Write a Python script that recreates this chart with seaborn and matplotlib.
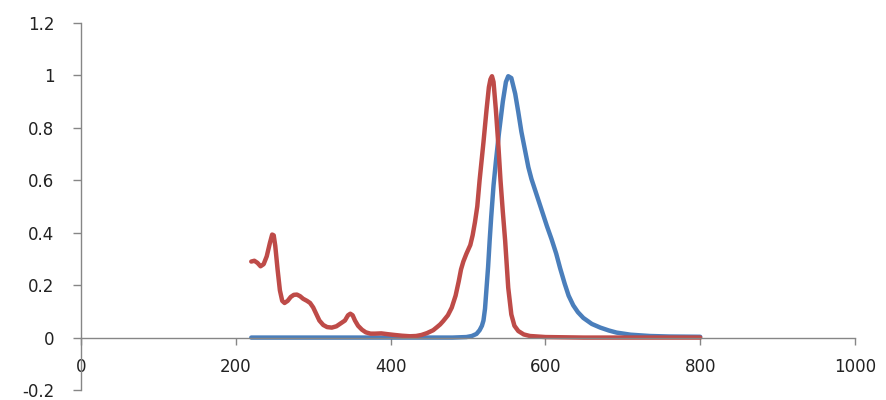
import numpy as np
import pandas as pd
import matplotlib.pyplot as plt
import seaborn as sns

# absorption (red)
abs_x = [220, 224, 228, 232, 236, 240, 244, 247, 249, 251, 254, 257, 260, 263, 267, 271,
         275, 279, 283, 287, 292, 296, 300, 304, 308, 313, 318, 324, 330, 336, 341, 345,
         348, 351, 354, 358, 363, 368, 374, 380, 388, 396, 405, 415, 425, 433, 440, 447,
         455, 460, 464, 468, 474, 479, 484, 488, 491, 494, 498, 503, 506, 509, 512, 515,
         520, 524, 527, 529, 531, 533, 536, 539, 542, 545, 548, 552, 556, 560, 565, 572,
         580, 600, 650, 700, 750, 800]
abs_y = [0.29, 0.293, 0.285, 0.272, 0.28, 0.31, 0.36, 0.393, 0.39, 0.35, 0.26, 0.18, 0.14,
         0.132, 0.14, 0.155, 0.163, 0.164, 0.158, 0.148, 0.14, 0.132, 0.115, 0.09, 0.065,
         0.048, 0.04, 0.038, 0.043, 0.055, 0.065, 0.085, 0.091, 0.085, 0.065, 0.045, 0.03,
         0.02, 0.015, 0.015, 0.016, 0.013, 0.01, 0.007, 0.005, 0.006, 0.01, 0.017, 0.028,
         0.04, 0.05, 0.063, 0.085, 0.114, 0.16, 0.214, 0.26, 0.29, 0.32, 0.353, 0.39, 0.44,
         0.5, 0.6, 0.745, 0.87, 0.955, 0.985, 0.997, 0.975, 0.87, 0.745, 0.6, 0.48, 0.37,
         0.19, 0.088, 0.045, 0.025, 0.012, 0.006, 0.002, 0.0, 0.0, 0.0, 0.0]

# emission (blue)
em_x = [220, 300, 400, 480, 498, 505, 511, 515, 518, 520, 522, 524, 526, 528, 530, 533,
        536, 540, 545, 549, 552, 556, 561, 565, 569, 574, 578, 582, 587, 592, 597, 602,
        608, 614, 619, 625, 630, 636, 642, 649, 660, 671, 682, 692, 710, 735, 760, 800]
em_y = [0, 0, 0, 0, 0.002, 0.006, 0.014, 0.028, 0.045, 0.065, 0.11, 0.19, 0.27, 0.37,
        0.46, 0.58, 0.67, 0.78, 0.9, 0.975, 0.997, 0.99, 0.93, 0.86, 0.785, 0.71, 0.65,
        0.605, 0.56, 0.515, 0.47, 0.425, 0.375, 0.32, 0.265, 0.205, 0.16, 0.123, 0.097,
        0.075, 0.052, 0.038, 0.027, 0.019, 0.011, 0.006, 0.004, 0.003]

x_ticks = [0, 200, 400, 600, 800, 1000]
y_ticks = [-0.2, 0, 0.2, 0.4, 0.6, 0.8, 1, 1.2]
y_labels = ['-0.2', '0', '0.2', '0.4', '0.6', '0.8', '1', '1.2']

sns.set_style('white')
plt.rcParams['font.family'] = ['DejaVu Sans']

fig = plt.figure(figsize=(8.86, 4), dpi=100)
ax = fig.add_axes([0.0914, 0.025, 0.8736, 0.9175])

em = pd.DataFrame({'x': em_x, 'y': em_y})
ab = pd.DataFrame({'x': abs_x, 'y': abs_y})
sns.lineplot(data=em, x='x', y='y', ax=ax, color='#4A7EBB', lw=3.2,
             solid_capstyle='round', solid_joinstyle='round')
sns.lineplot(data=ab, x='x', y='y', ax=ax, color='#BE4B48', lw=3.2,
             solid_capstyle='round', solid_joinstyle='round')

ax.set_xlim(0, 1000)
ax.set_ylim(-0.2, 1.2)
ax.set_xlabel('')
ax.set_ylabel('')
ax.set_xticks(x_ticks)
ax.set_xticklabels([str(t) for t in x_ticks])
ax.set_yticks(y_ticks)
ax.set_yticklabels(y_labels)

ax.spines['top'].set_visible(False)
ax.spines['right'].set_visible(False)
ax.spines['bottom'].set_position(('data', 0))
for s in ['left', 'bottom']:
    ax.spines[s].set_color('#868686')
    ax.spines[s].set_linewidth(1)

ax.tick_params(axis='y', direction='out', length=6, width=1, color='#868686',
               pad=13, labelsize=12, labelcolor='#222222', left=True)
ax.tick_params(axis='x', direction='out', length=5, width=1, color='#868686',
               pad=10, labelsize=12, labelcolor='#222222', bottom=True)

fig.savefig('out.png', dpi=100)
